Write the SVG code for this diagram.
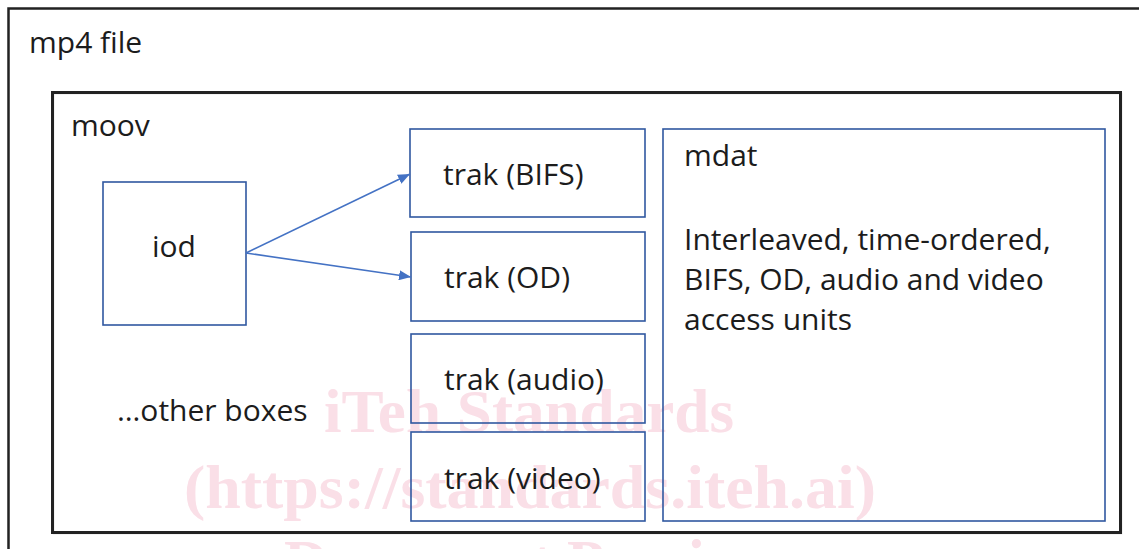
<svg xmlns="http://www.w3.org/2000/svg" width="1139" height="549" viewBox="0 0 1139 549">
  <style>
    .lbl { font-family: "Open Sans", "Noto Sans", sans-serif; font-size: 30px; fill: #1c1c1c; }
    .box { fill: none; stroke: #3058a0; stroke-width: 1.6; }
    .wm { font-family: "Liberation Serif", "Times New Roman", serif; font-weight: bold; font-size: 61px; fill: #fadfe7; text-anchor: middle; }
    .conn { stroke: #4472c4; stroke-width: 1.6; fill: none; marker-end: url(#arrow); }
  </style>
  <defs>
    <marker id="arrow" viewBox="0 0 12 10" refX="12" refY="5" markerWidth="12" markerHeight="10" markerUnits="userSpaceOnUse" orient="auto">
      <path d="M0,0 L12,5 L0,10 Z" fill="#4472c4"/>
    </marker>
  </defs>
  <rect x="0" y="0" width="1139" height="549" fill="#ffffff"/>

  <g id="watermark">
    <text class="wm" x="529" y="432" textLength="410" lengthAdjust="spacingAndGlyphs">iTeh Standards</text>
    <text class="wm" x="530" y="508" textLength="692" lengthAdjust="spacingAndGlyphs">(https://standards.iteh.ai)</text>
    <text class="wm" x="530" y="582">Document Preview</text>
  </g>

  <g id="mp4file">
    <rect x="8.5" y="8.5" width="1140" height="560" fill="none" stroke="#222222" stroke-width="2.5"/>
    <text class="lbl" x="29" y="53">mp4 file</text>
  </g>

  <g id="moov">
    <rect x="53.5" y="93.5" width="1068" height="440" fill="none" stroke="#d0d0d0" stroke-width="1.5"/>
    <rect x="52.5" y="92.5" width="1068" height="440" fill="none" stroke="#222222" stroke-width="3"/>
    <text class="lbl" x="71" y="136">moov</text>
  </g>

  <g id="iod">
    <rect class="box" x="103" y="182" width="143" height="143"/>
    <text class="lbl" x="174" y="257" text-anchor="middle">iod</text>
  </g>

  <g id="trak-bifs">
    <rect class="box" x="410" y="129" width="235" height="88"/>
    <text class="lbl" x="443" y="185">trak (BIFS)</text>
  </g>

  <g id="trak-od">
    <rect class="box" x="411" y="232" width="234" height="89"/>
    <text class="lbl" x="444" y="288">trak (OD)</text>
  </g>

  <g id="trak-audio">
    <rect class="box" x="411" y="334" width="234" height="89"/>
    <text class="lbl" x="444" y="390">trak (audio)</text>
  </g>

  <g id="trak-video">
    <rect class="box" x="411" y="432" width="234" height="89"/>
    <text class="lbl" x="444" y="489">trak (video)</text>
  </g>

  <g id="other-boxes">
    <text class="lbl" x="117" y="421">…other boxes</text>
  </g>

  <g id="mdat">
    <rect class="box" x="663" y="129" width="442" height="392"/>
    <text class="lbl" x="684" y="166">mdat</text>
    <text class="lbl" x="684" y="250">Interleaved, time-ordered,</text>
    <text class="lbl" x="684" y="290">BIFS, OD, audio and video</text>
    <text class="lbl" x="684" y="330">access units</text>
  </g>

  <g id="connectors">
    <line class="conn" x1="246" y1="253" x2="410" y2="174"/>
    <line class="conn" x1="246" y1="253" x2="411" y2="277"/>
  </g>
</svg>
